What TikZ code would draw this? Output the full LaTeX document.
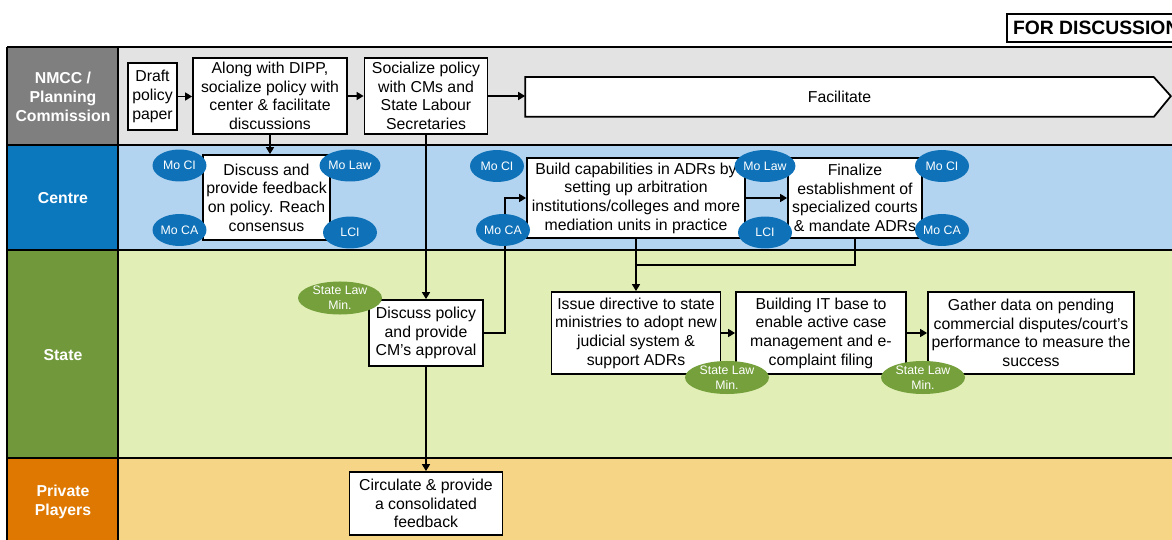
\documentclass[tikz,border=0pt]{standalone}
\usepackage{fontspec}
\setmainfont{Liberation Sans}
\usetikzlibrary{calc, positioning}
\usetikzlibrary{arrows.meta}
\usepgflibrary{shapes.geometric}
\definecolor{nmccdark}{HTML}{7F7F7F}
\definecolor{nmcclight}{HTML}{E3E3E3}
\definecolor{centredark}{HTML}{0B78BE}
\definecolor{centrelight}{HTML}{B3D4F0}
\definecolor{statedark}{HTML}{71993C}
\definecolor{statelight}{HTML}{E1EFB7}
\definecolor{privdark}{HTML}{DE7800}
\definecolor{privlight}{HTML}{F6D586}
\definecolor{minblue}{HTML}{0F72B9}
\definecolor{mingreen}{HTML}{75A03C}
\def\boxfont{\fontsize{9}{10.6}\selectfont}
\def\tagfont{\fontsize{7}{8.4}\selectfont}
\tikzset{
    stepbox/.style = {
        draw, rectangle, fill=white, line width=1pt, align=center, inner sep=1pt, font=\boxfont
    },
    lanelabel/.style = {
        text=white, align=center, font=\bfseries\fontsize{9}{11}\selectfont
    },
    laneline/.style = {line width=1.6pt},
    flow/.style = {line width=1pt, ->},
    link/.style = {line width=1pt},
    ministry/.style = {
        ellipse, fill=minblue, text=white, inner sep=0pt, minimum width=1.08cm, minimum height=0.64cm, font=\tagfont
    },
    stateminister/.style = {
        ellipse, fill=mingreen, text=white, inner sep=0pt, minimum width=1.68cm, minimum height=0.62cm, align=center, font=\tagfont
    },
}

\begin{document}
\begin{tikzpicture}[x=0.02cm, y=-0.02cm, >={Triangle[width=4.5pt,length=4pt]}]
        \useasboundingbox (0,0) rectangle (1172,540);
        % Draw the lanes
        \foreach \ytop/\ybot/\dark/\light in {47/145/nmccdark/nmcclight, 145/250/centredark/centrelight, 250/458/statedark/statelight, 458/560/privdark/privlight}{
            \fill[\dark] (7,\ytop) rectangle (118,\ybot);
            \fill[\light] (118,\ytop) rectangle (1190,\ybot);
            \draw[laneline] (7,\ytop) -- (1190,\ytop);
        }
        \draw[laneline] (7,47) -- (7,560);
        \draw[laneline] (118,47) -- (118,560);
        \node[lanelabel] (nmcc) at (63,97) {NMCC /\\Planning\\Commission};
        \node[lanelabel] (centre) at (63,198) {Centre};
        \node[lanelabel] (state) at (63,355) {State};
        \node[lanelabel] (priv) at (63,502) {Private\\Players};
        \node[draw, line width=1pt, fill=white, anchor=west, inner xsep=3.5pt, minimum height=0.56cm, font=\bfseries\fontsize{11}{13}\selectfont] (tag) at (1006,28) {FOR DISCUSSION};

        % Place the blocks
        \node[stepbox, minimum width=0.98cm, minimum height=1.34cm] (draft) at (152.5,96.5) {Draft\\policy\\paper};
        \node[stepbox, minimum width=3.08cm, minimum height=1.52cm] (dipp) at (270,96) {Along with DIPP,\\socialize policy with\\center \& facilitate\\discussions};
        \node[stepbox, minimum width=2.46cm, minimum height=1.52cm] (social) at (426,96) {Socialize policy\\with CMs and\\State Labour\\Secretaries};
        \node[stepbox, draw=none, fill=none, minimum width=12.54cm, minimum height=0.76cm] (facil) at (839.5,97) {};
        \draw[line width=1pt, fill=white] (facil.north west) -- (facil.north east) -- ++(17,19) -- (facil.south east) -- (facil.south west) -- cycle;
        \node[font=\boxfont] at (facil) {Facilitate};
        \node[stepbox, minimum width=2.54cm, minimum height=1.7cm] (feedback) at (266.5,197.5) {Discuss and\\provide feedback\\on policy. Reach\\consensus};
        \node[stepbox, minimum width=4.36cm, minimum height=1.6cm] (build) at (636,198) {Build capabilities in ADRs by\\setting up arbitration\\institutions/colleges and more\\mediation units in practice};
        \node[stepbox, minimum width=2.68cm, minimum height=1.6cm] (final) at (855,198) {Finalize\\establishment of\\specialized courts\\\& mandate ADRs};
        \node[stepbox, minimum width=2.28cm, minimum height=1.32cm] (approve) at (426,333) {Discuss policy\\and provide\\CM’s approval};
        \node[stepbox, minimum width=3.38cm, minimum height=1.64cm] (issue) at (636,333) {Issue directive to state\\ministries to adopt new\\judicial system \&\\support ADRs};
        \node[stepbox, minimum width=3.4cm, minimum height=1.64cm] (itbase) at (821,333) {Building IT base to\\enable active case\\management and e-\\complaint filing};
        \node[stepbox, minimum width=4.12cm, minimum height=1.64cm] (gather) at (1031,333) {Gather data on pending\\commercial disputes/court’s\\performance to measure the\\success};
        \node[stepbox, minimum width=3.06cm, minimum height=1.26cm] (circ) at (426,503.5) {Circulate \& provide\\a consolidated\\feedback};

        % Draw connections
        \draw[flow] (draft.east) -- (draft.east -| dipp.west);
        \draw[flow] (dipp.east) -- (dipp.east -| social.west);
        \draw[flow] (social.east) -- (social.east -| facil.west);
        \draw[flow] (dipp.south) -- (dipp.south |- feedback.north);
        \draw[flow] (social.south) -- (approve.north);
        \draw[flow] (approve.south) -- (circ.north);
        \draw[flow] (approve.east) -- ++(21,0) |- (build.west);
        \draw[flow] (build.east) -- (final.west);
        \coordinate (join) at (636,265);
        \draw[flow] (build.south) -- (issue.north);
        \draw[link] (final.south) |- (join);
        \draw[flow] (issue.east) -- (itbase.west);
        \draw[flow] (itbase.east) -- (gather.west);

        % Place the ministries
        \node[ministry] (ci1) at (179.5,165.5) {Mo CI};
        \node[ministry] (law1) at (350,165.5) {Mo Law};
        \node[ministry] (ca1) at (179.5,230) {Mo CA};
        \node[ministry] (lci1) at (350,232.5) {LCI};
        \node[ministry] (ci2) at (497,166) {Mo CI};
        \node[ministry] (ca2) at (503,230) {Mo CA};
        \node[ministry] (law2) at (765,166) {Mo Law};
        \node[ministry] (lci2) at (765,232.5) {LCI};
        \node[ministry] (ci3) at (942,166) {Mo CI};
        \node[ministry] (ca3) at (942,230) {Mo CA};
        \node[stateminister] (slm1) at (340,298) {State Law\\Min.};
        \node[stateminister] (slm2) at (727,377.5) {State Law\\Min.};
        \node[stateminister] (slm3) at (923,377.5) {State Law\\Min.};
    \end{tikzpicture}
\end{document}
